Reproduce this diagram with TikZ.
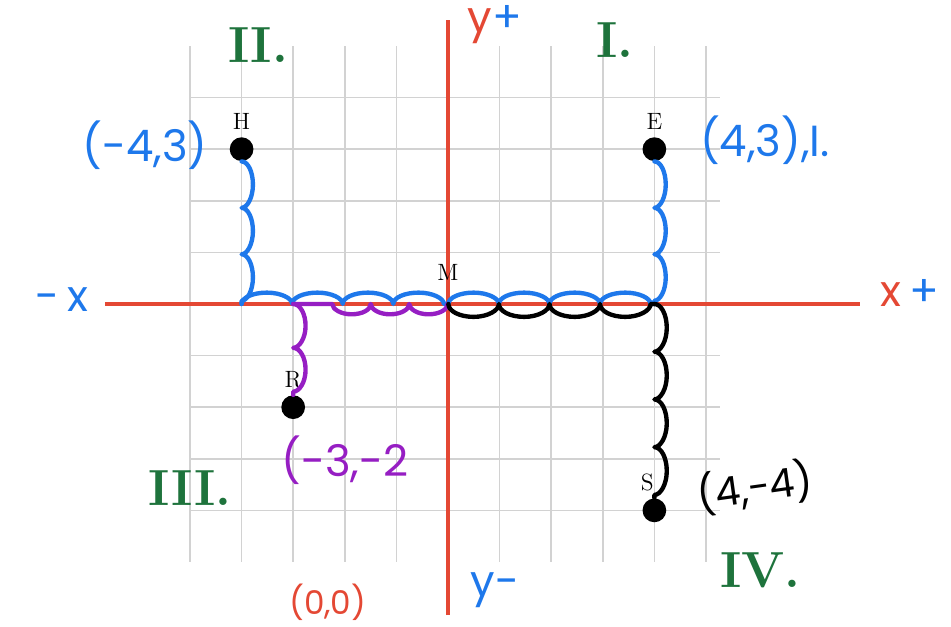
\documentclass[tikz,border=0pt]{standalone}
\usepackage{fontspec}
\usepackage{tikz}
\usetikzlibrary{positioning,decorations.pathmorphing}
\newfontfamily\handfont{Poppins}
\definecolor{axiscol}{RGB}{228,72,52}
\definecolor{penblue}{RGB}{30,120,235}
\definecolor{pengreen}{RGB}{30,115,60}
\definecolor{penpurple}{RGB}{150,30,195}

\begin{document}
\begin{tikzpicture}[x=1cm,y=1cm,
  dot/.style={circle,fill=black,inner sep=0pt,minimum size=0.46cm},
  ptname/.style={font=\fontsize{13}{14}\selectfont,inner sep=1pt},
  hand/.style={font=\handfont\fontsize{24}{26}\selectfont},
  quad/.style={font=\bfseries\fontsize{28}{30}\selectfont,text=pengreen},
  ink/.style={line width=2.4pt,line cap=round,line join=round},
  bumpy/.style 2 args={decorate,decoration={bumps,segment length=#1,amplitude=#2}}]
\useasboundingbox (-8.682,-6.26) rectangle (9.748,5.891);
% grid
\foreach \x in {-5,...,5} \draw[gray!35,line width=0.9pt] (\x,-5) -- (\x,5);
\foreach \y in {-4,...,4} \draw[gray!35,line width=0.9pt] (-5,\y) -- (5.27,\y);
% axes
\draw[axiscol,line width=2.7pt] (-6.65,0) -- (7.98,0);
\draw[axiscol,line width=2.7pt] (0,-6.03) -- (0,5.5);
% points
\node[dot] (H) at (-4,3) {};
\node[dot] (E) at (4,3) {};
\node[dot] (R) at (-3,-2) {};
\node[dot] (S) at (4,-4) {};
\node[inner sep=0pt,minimum size=0pt] (M) at (0,0) {};
\coordinate (hx) at (-4,0);
\coordinate (ex) at (4,0);
\coordinate (rx) at (-3,0);
\coordinate (sx) at (4,0);
\node[ptname,above=0.1cm of H] (Hname) {H};
\node[ptname,above=0.1cm of E] (Ename) {E};
\node[ptname,above=0.1cm of R] (Rname) {R};
\node[ptname,above=0.1cm of S,xshift=-0.14cm] (Sname) {S};
\node[ptname,above=0.4cm of M] (Mname) {M};
% paths
\draw[ink,penblue,bumpy={1.8cm}{0.22cm}] (H) -- (hx);
\draw[ink,penblue,bumpy={1.96cm}{0.22cm}] (hx) -- (M);
\draw[ink,penblue,bumpy={1.96cm}{0.22cm}] (M) -- (ex);
\draw[ink,penblue,bumpy={1.8cm}{0.22cm}] (E) -- (ex);
\draw[ink,penpurple,bumpy={1.49cm}{0.2cm}] (M) -- (rx);
\draw[ink,penpurple,bumpy={1.7cm}{0.24cm}] (rx) -- (R);
\draw[ink,black,bumpy={1.96cm}{-0.25cm}] (M) -- (sx);
\draw[ink,black,bumpy={1.85cm}{0.24cm}] (sx) -- (S);
% axis names
\node[hand,text=penblue] (xneg) at (-7.48,0.08) {-\,x};
\node[hand] (xpos) at (8.95,0.21) {\textcolor{axiscol}{x}\,\textcolor{penblue}{+}};
\node[hand] (ypos) at (0.91,5.41) {\textcolor{axiscol}{y}\textcolor{penblue}{+}};
\node[hand,text=penblue] (yneg) at (0.91,-5.54) {y-};
\node[hand,text=axiscol,font=\handfont\fontsize{18}{20}\selectfont] (orig) at (-2.33,-5.79) {(0,0)};
% quadrants
\node[quad] (q2) at (-3.68,5.02) {II.};
\node[quad] (q1) at (3.24,5.12) {I.};
\node[quad] (q3) at (-5.0,-3.57) {III.};
\node[quad] (q4) at (6.05,-5.16) {IV.};
% coordinates
\node[hand,text=penblue] (Hcoord) at (-5.87,3.08) {(-4,3)};
\node[hand,text=penblue] (Ecoord) at (6.14,3.18) {(4,3),I.};
\node[hand,text=penpurple] (Rcoord) at (-2.0,-3.02) {(-3,-2};
\node[hand,rotate=8,font=\handfont\fontsize{22}{24}\selectfont] (Scoord) at (5.95,-3.55) {(4,-4)};
\end{tikzpicture}
\end{document}
